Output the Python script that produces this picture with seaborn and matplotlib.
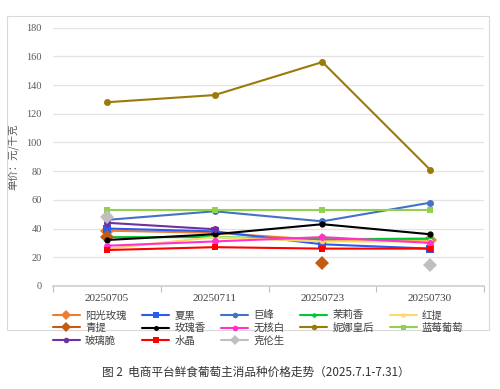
import numpy as np
import matplotlib
matplotlib.use("Agg")
import matplotlib.pyplot as plt
import seaborn as sns
from matplotlib.patches import Rectangle

sns.set_theme(style="white")
plt.rcParams["font.family"] = ["Liberation Serif", "Noto Sans CJK SC", "DejaVu Sans"]

dates = ["20250705", "20250711", "20250723", "20250730"]
nan = np.nan

# 单价（元/千克）
yangguang = [38.5, 37, 32, 32]
xiahei = [40, 38, 29, 26]
jufeng = [46, 52, 45, 58]
moli = [34, 34, 32.5, 33]
hongti = [26, 34, 31, 31]
qingti = [34, nan, 16, nan]
meiguixiang = [32, 36, 43, 36]
wuhebai = [28, 31, 34, 30]
ninahuanghou = [128, 133, 156, 81]
lanmei = [53, 53, 53, 53]
bolicui = [44, 39.5, nan, nan]
shuijing = [25, 27, 26, 26]
kelunsheng = [48, nan, nan, 14.5]

series = [
    ("阳光玫瑰", yangguang, "#ED7D31", "D", 7),
    ("夏黑", xiahei, "#2A5CF0", "s", 6),
    ("巨峰", jufeng, "#4472C4", "o", 5),
    ("茉莉香", moli, "#00C832", "o", 4),
    ("红提", hongti, "#FFD966", "o", 4),
    ("青提", qingti, "#C55A11", "D", 7),
    ("玫瑰香", meiguixiang, "#000000", "o", 4.5),
    ("无核白", wuhebai, "#FF33CC", "o", 5),
    ("妮娜皇后", ninahuanghou, "#9C7A0A", "o", 5),
    ("蓝莓葡萄", lanmei, "#92D050", "s", 4.5),
    ("玻璃脆", bolicui, "#7030A0", "o", 5),
    ("水晶", shuijing, "#FF0000", "s", 5),
    ("克伦生", kelunsheng, "#BFBFBF", "D", 7),
]

fig = plt.figure(figsize=(5, 3.89), dpi=100)
fig.add_artist(Rectangle((7 / 500, 1 - 330 / 389), 482 / 500, 314 / 389,
                         transform=fig.transFigure, fill=False,
                         edgecolor="#D9D9D9", linewidth=0.8))
ax = fig.add_axes([0.106, 0.265, 0.862, 0.664])

# ax.plot keeps gaps at missing dates (sns.lineplot would bridge them)
x = np.arange(len(dates))
handles = {}
for name, vals, color, marker, ms in series:
    line, = ax.plot(x, vals, color=color, marker=marker, markersize=ms,
                    markeredgewidth=0, linewidth=1.5)
    handles[name] = line

ax.set_xlim(-0.5, 3.5)
ax.set_ylim(0, 180)
ax.set_yticks(range(0, 181, 20))
ax.set_xticks(x)
ax.set_xticklabels(dates)
ax.set_xticks([-0.5, 0.5, 1.5, 2.5, 3.5], minor=True)
ax.tick_params(axis="x", which="minor", length=4, color="#BFBFBF", width=0.8, bottom=True)
ax.tick_params(axis="x", which="major", length=0, labelsize=8, colors="#404040", pad=6)
ax.tick_params(axis="y", length=0, labelsize=7.5, colors="#595959", pad=8)
ax.grid(axis="y", color="#E3E3E3", linewidth=0.9)
ax.set_axisbelow(True)
for s in ["top", "right", "left"]:
    ax.spines[s].set_visible(False)
ax.spines["bottom"].set_color("#D0D0D0")
ax.set_ylabel("单价：元/千克", fontsize=7.5, color="#595959", labelpad=6,
              family=["Noto Sans CJK SC", "DejaVu Sans"])

# legend order is column-major in matplotlib
order = ["阳光玫瑰", "青提", "玻璃脆", "夏黑", "玫瑰香", "水晶", "巨峰", "无核白", "克伦生",
         "茉莉香", "妮娜皇后", "红提", "蓝莓葡萄"]
leg = fig.legend([handles[n] for n in order], order, ncol=5, loc="upper left",
                 bbox_to_anchor=(0.095, 1 - 305 / 389), frameon=False,
                 prop={"family": ["Noto Sans CJK SC", "DejaVu Sans"], "size": 7.5},
                 handlelength=2.6, handletextpad=0.5, columnspacing=1.5,
                 labelspacing=0.25, borderpad=0, markerscale=0.8)
for t in leg.get_texts():
    t.set_color("#404040")

fig.text(0.512, 1 - 372 / 389, "图 2  电商平台鲜食葡萄主消品种价格走势（2025.7.1-7.31）",
         ha="center", va="center", fontsize=8.4, color="#333333",
         family=["Noto Sans CJK SC", "DejaVu Sans"])

fig.savefig("out.png", dpi=100)
